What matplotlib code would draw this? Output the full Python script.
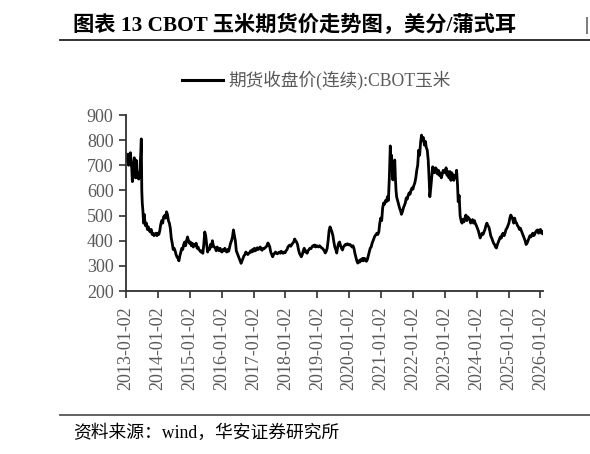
import matplotlib
matplotlib.use("Agg")
import matplotlib.pyplot as plt
from matplotlib.lines import Line2D

# CBOT corn continuous close, cents/bushel (decimal years)
years = [
    2013.00, 2013.02, 2013.04, 2013.06, 2013.08, 2013.10, 2013.12, 2013.14, 2013.16, 2013.18,
    2013.20, 2013.22, 2013.24, 2013.26, 2013.28, 2013.30, 2013.32, 2013.34, 2013.36, 2013.38,
    2013.40, 2013.42, 2013.44, 2013.46, 2013.48, 2013.495, 2013.51, 2013.53, 2013.55, 2013.57,
    2013.59, 2013.61, 2013.64, 2013.67, 2013.70, 2013.73, 2013.76, 2013.79, 2013.82, 2013.85,
    2013.88, 2013.91, 2013.94, 2013.97, 2014.00, 2014.03, 2014.06, 2014.09, 2014.12, 2014.15,
    2014.18, 2014.21, 2014.24, 2014.27, 2014.30, 2014.33, 2014.36, 2014.39, 2014.42, 2014.45,
    2014.48, 2014.51, 2014.54, 2014.57, 2014.60, 2014.63, 2014.66, 2014.69, 2014.72, 2014.75,
    2014.78, 2014.81, 2014.84, 2014.87, 2014.90, 2014.93, 2014.96, 2014.99, 2015.02, 2015.05,
    2015.08, 2015.11, 2015.14, 2015.17, 2015.20, 2015.23, 2015.26, 2015.29, 2015.32, 2015.35,
    2015.38, 2015.41, 2015.44, 2015.47, 2015.50, 2015.53, 2015.56, 2015.59, 2015.62, 2015.65,
    2015.68, 2015.71, 2015.74, 2015.77, 2015.80, 2015.83, 2015.86, 2015.89, 2015.92, 2015.95,
    2015.98, 2016.01, 2016.04, 2016.07, 2016.10, 2016.13, 2016.16, 2016.19, 2016.22, 2016.25,
    2016.28, 2016.31, 2016.34, 2016.37, 2016.40, 2016.43, 2016.46, 2016.49, 2016.52, 2016.55,
    2016.58, 2016.61, 2016.64, 2016.67, 2016.70, 2016.73, 2016.76, 2016.79, 2016.82, 2016.85,
    2016.88, 2016.91, 2016.94, 2016.97, 2017.00, 2017.03, 2017.06, 2017.09, 2017.12, 2017.15,
    2017.18, 2017.21, 2017.24, 2017.27, 2017.30, 2017.33, 2017.36, 2017.39, 2017.42, 2017.45,
    2017.48, 2017.51, 2017.54, 2017.57, 2017.60, 2017.63, 2017.66, 2017.69, 2017.72, 2017.75,
    2017.78, 2017.81, 2017.84, 2017.87, 2017.90, 2017.93, 2017.96, 2017.99, 2018.02, 2018.05,
    2018.08, 2018.11, 2018.14, 2018.17, 2018.20, 2018.23, 2018.26, 2018.29, 2018.32, 2018.35,
    2018.38, 2018.41, 2018.44, 2018.47, 2018.50, 2018.53, 2018.56, 2018.59, 2018.62, 2018.65,
    2018.68, 2018.71, 2018.74, 2018.77, 2018.80, 2018.83, 2018.86, 2018.89, 2018.92, 2018.95,
    2018.98, 2019.01, 2019.04, 2019.07, 2019.10, 2019.13, 2019.16, 2019.19, 2019.22, 2019.25,
    2019.28, 2019.31, 2019.34, 2019.37, 2019.40, 2019.43, 2019.46, 2019.49, 2019.52, 2019.55,
    2019.58, 2019.61, 2019.64, 2019.67, 2019.70, 2019.73, 2019.76, 2019.79, 2019.82, 2019.85,
    2019.88, 2019.91, 2019.94, 2019.97, 2020.00, 2020.03, 2020.06, 2020.09, 2020.12, 2020.15,
    2020.18, 2020.21, 2020.24, 2020.27, 2020.30, 2020.33, 2020.36, 2020.39, 2020.42, 2020.45,
    2020.48, 2020.51, 2020.54, 2020.57, 2020.60, 2020.63, 2020.66, 2020.69, 2020.72, 2020.75,
    2020.78, 2020.81, 2020.84, 2020.87, 2020.90, 2020.93, 2020.96, 2020.99, 2021.02, 2021.05,
    2021.08, 2021.11, 2021.14, 2021.17, 2021.20, 2021.23, 2021.26, 2021.29, 2021.31, 2021.33,
    2021.35, 2021.37, 2021.40, 2021.43, 2021.45, 2021.47, 2021.49, 2021.52, 2021.55, 2021.58,
    2021.61, 2021.64, 2021.67, 2021.70, 2021.73, 2021.76, 2021.79, 2021.82, 2021.85, 2021.88,
    2021.91, 2021.94, 2021.97, 2022.00, 2022.03, 2022.06, 2022.09, 2022.12, 2022.15, 2022.18,
    2022.21, 2022.24, 2022.27, 2022.30, 2022.33, 2022.36, 2022.39, 2022.42, 2022.45, 2022.48,
    2022.51, 2022.53, 2022.56, 2022.59, 2022.62, 2022.65, 2022.68, 2022.71, 2022.74, 2022.77,
    2022.80, 2022.83, 2022.86, 2022.89, 2022.92, 2022.95, 2022.98, 2023.01, 2023.04, 2023.07,
    2023.10, 2023.13, 2023.16, 2023.19, 2023.22, 2023.25, 2023.28, 2023.31, 2023.34, 2023.37,
    2023.40, 2023.42, 2023.45, 2023.48, 2023.51, 2023.54, 2023.57, 2023.60, 2023.63, 2023.66,
    2023.69, 2023.72, 2023.75, 2023.78, 2023.81, 2023.84, 2023.87, 2023.90, 2023.93, 2023.96,
    2023.99, 2024.02, 2024.05, 2024.08, 2024.11, 2024.14, 2024.17, 2024.20, 2024.23, 2024.26,
    2024.29, 2024.32, 2024.35, 2024.38, 2024.41, 2024.44, 2024.47, 2024.50, 2024.53, 2024.56,
    2024.59, 2024.62, 2024.65, 2024.68, 2024.71, 2024.74, 2024.77, 2024.80, 2024.83, 2024.86,
    2024.89, 2024.92, 2024.95, 2024.98, 2025.01, 2025.04, 2025.07, 2025.10, 2025.13, 2025.16,
    2025.19, 2025.22, 2025.25, 2025.28, 2025.31, 2025.34, 2025.37, 2025.40, 2025.43, 2025.46,
    2025.49, 2025.52, 2025.55, 2025.58, 2025.61, 2025.64, 2025.67, 2025.70, 2025.73, 2025.76,
    2025.79, 2025.82, 2025.85, 2025.88, 2025.91, 2025.94, 2025.97, 2026.00, 2026.03, 2026.06,
    2026.08,
]
prices = [
    725, 745, 715, 735, 700, 745, 720, 750, 705, 690,
    635, 660, 710, 730, 680, 650, 720, 665, 650, 670,
    645, 660, 690, 740, 805, 600, 550, 520, 470, 505,
    480, 460, 470, 445, 455, 440, 435, 445, 425, 430,
    420, 425, 430, 420, 430, 425, 440, 465, 480, 470,
    495, 500, 490, 515, 505, 480, 470, 450, 410, 390,
    365, 370, 360, 345, 335, 330, 320, 340, 355, 370,
    365, 385, 395, 380, 400, 415, 400, 390, 395, 380,
    390, 375, 385, 380, 390, 370, 375, 365, 360, 355,
    360, 350, 385, 435, 420, 385, 355, 370, 365, 385,
    375, 400, 380, 375, 370, 360, 375, 365, 360, 370,
    358, 355, 365, 360, 370, 360, 355, 365, 358, 375,
    390, 400, 415, 443, 420, 400, 360, 350, 340, 330,
    320, 310, 320, 330, 340, 345, 355, 350, 345, 350,
    352, 360, 355, 365, 358, 370, 360, 365, 372, 365,
    370, 375, 365, 362, 370, 368, 372, 375, 380, 391,
    385, 375, 355, 345, 336, 345, 350, 355, 350, 348,
    352, 355, 350, 358, 352, 350, 355, 352, 360, 365,
    375, 380, 383, 378, 385, 390, 395, 407, 400, 395,
    385, 365, 350, 343, 336, 345, 360, 370, 355, 360,
    350, 360, 365, 370, 368, 375, 380, 378, 383, 375,
    380, 378, 375, 380, 376, 372, 370, 365, 360, 351,
    358, 370, 400, 440, 455, 445, 435, 420, 395, 375,
    365, 351, 375, 390, 395, 380, 370, 363, 375, 380,
    385, 383, 388, 385, 383, 385, 380, 375, 380, 370,
    350, 335, 320, 311, 320, 315, 325, 320, 330, 320,
    330, 325, 318, 325, 340, 355, 370, 375, 390, 400,
    410, 420, 423, 430, 425, 435, 470, 490, 480, 530,
    550, 545, 560, 555, 575, 560, 650, 777, 700, 740,
    680, 642, 690, 721, 650, 600, 574, 560, 545, 530,
    520, 505, 515, 530, 540, 550, 570, 565, 580, 590,
    585, 600, 610, 605, 620, 630, 650, 680, 700, 760,
    740, 790, 820, 800, 810, 780, 795, 770, 760, 720,
    640, 575, 610, 650, 694, 680, 670, 690, 685, 665,
    680, 660, 670, 650, 665, 680, 675, 670, 690, 660,
    675, 650, 675, 640, 670, 660, 640, 660, 650, 680,
    620, 555, 580, 500, 480, 470, 485, 475, 490, 502,
    480, 495, 490, 485, 470, 478, 484, 470, 480, 468,
    460, 450, 440, 425, 411, 420, 430, 425, 435, 445,
    460, 470, 460, 455, 440, 420, 411, 400, 390, 385,
    375, 371, 385, 395, 405, 415, 410, 425, 430, 420,
    430, 445, 450, 460, 470, 490, 502, 495, 485, 470,
    490, 475, 470, 460, 455, 445, 450, 440, 430, 420,
    410, 400, 385, 390, 400, 410, 420, 415, 423, 430,
    420, 425, 435, 440, 443, 430, 440, 445, 430, 438,
    428,
]

tick_years = list(range(2013, 2027))
tick_labels = [str(y) + "-01-02" for y in tick_years]
y_ticks = [200, 300, 400, 500, 600, 700, 800, 900]

title = "图表 13 CBOT 玉米期货价走势图，美分/蒲式耳"
legend_label = "期货收盘价(连续):CBOT玉米"
source = "资料来源：wind，华安证券研究所"

serif_cjk = ["Liberation Serif", "Noto Sans CJK SC"]
gray = "#595959"

fig = plt.figure(figsize=(5.9, 4.54), dpi=100)
ax = fig.add_axes([126 / 590, 1 - 291 / 454, (543 - 126) / 590, (291 - 115) / 454])

ax.plot(years, prices, color="black", lw=2.0, solid_joinstyle="round")

ax.set_xlim(2013.0, 2026.08)
ax.set_ylim(200, 900)
ax.set_xticks(tick_years)
ax.set_xticklabels(tick_labels, rotation=90, family="Liberation Serif", fontsize=13, color=gray)
ax.set_yticks(y_ticks)
ax.set_yticklabels([str(v) for v in y_ticks], family="Liberation Serif", fontsize=13, color=gray)
ax.tick_params(axis="both", direction="out", length=5, width=1.2, color="#303030")
ax.tick_params(axis="x", pad=6)
ax.tick_params(axis="y", pad=4)

for s in ["top", "right"]:
    ax.spines[s].set_visible(False)
for s in ["left", "bottom"]:
    ax.spines[s].set_color("#303030")
    ax.spines[s].set_linewidth(1.3)

# header and footer of the report page
fig.text(73 / 590, 1 - 25 / 454, title, family=serif_cjk, fontsize=15.3,
         fontweight="bold", va="center", ha="left")
fig.text(584 / 590, 1 - 25 / 454, "|", family="Liberation Serif", fontsize=14,
         va="center", ha="left")
fig.add_artist(Line2D([60 / 590, 1], [1 - 40 / 454] * 2, color="#222222", lw=1.3))
fig.add_artist(Line2D([60 / 590, 1], [1 - 415 / 454] * 2, color="#555555", lw=1.3))
fig.text(73 / 590, 1 - 433 / 454, source, family=serif_cjk, fontsize=12.8,
         va="center", ha="left")

# legend drawn as a line sample + label, above the plot
fig.add_artist(Line2D([182 / 590, 223 / 590], [1 - 80 / 454] * 2, color="black", lw=2.2))
fig.text(228 / 590, 1 - 80 / 454, legend_label, family=serif_cjk, fontsize=12.7,
         color=gray, va="center", ha="left")

fig.savefig("out.png", dpi=100)
